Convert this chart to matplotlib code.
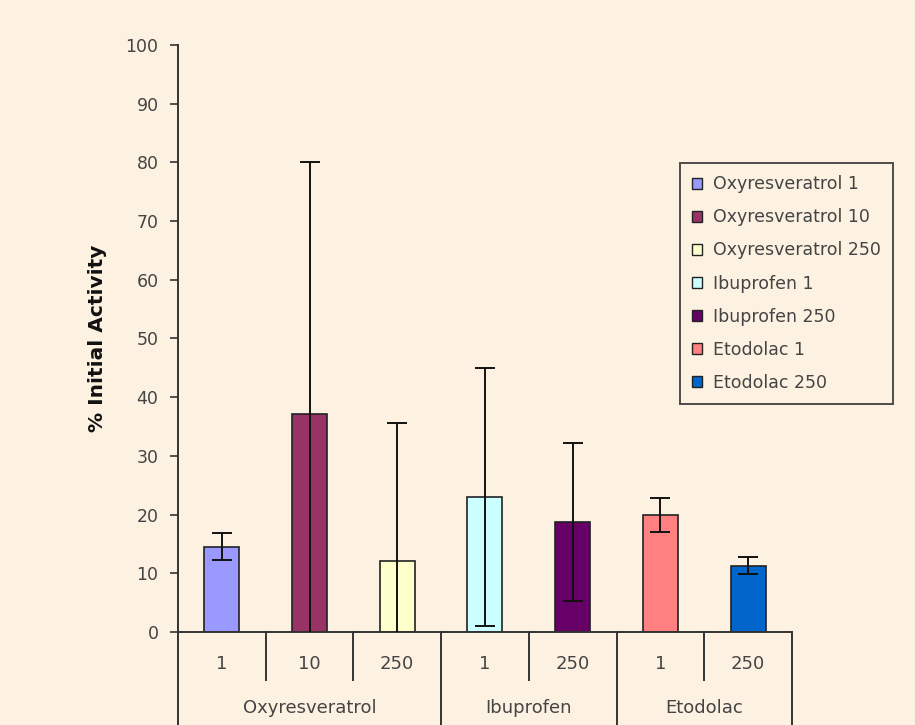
import numpy as np
import matplotlib.pyplot as plt
from matplotlib.patches import Patch

plt.rcParams["font.family"] = ["DejaVu Sans"]

series = ["Oxyresveratrol 1", "Oxyresveratrol 10", "Oxyresveratrol 250",
          "Ibuprofen 1", "Ibuprofen 250", "Etodolac 1", "Etodolac 250"]
doses = ["1", "10", "250", "1", "250", "1", "250"]
groups = ["Oxyresveratrol", "Ibuprofen", "Etodolac"]
group_sizes = [3, 2, 2]
values = [14.5, 37.1, 12.1, 23.0, 18.7, 20.0, 11.3]
errors = [2.3, 43.0, 23.5, 22.0, 13.5, 2.9, 1.5]
colors = ["#9999FF", "#993366", "#FFFFCC", "#CCFFFF", "#660066", "#FF8080", "#0066CC"]

bg = "#FDF2E2"
ink = "#333333"

fig = plt.figure(figsize=(9.15, 7.25), dpi=100, facecolor=bg)
ax = fig.add_axes([0.1945, 0.1283, 0.671, 0.8097], facecolor=bg)

x = np.arange(len(values))
ax.bar(x, values, width=0.4, color=colors, edgecolor="#222222", linewidth=1.2, zorder=2)
ax.errorbar(x, values, yerr=errors, fmt="none", ecolor="#111111", elinewidth=1.4,
            capsize=7.5, capthick=1.4, zorder=3)

ax.set_xlim(-0.5, len(values) - 0.5)
ax.set_ylim(0, 100)
ax.set_yticks(range(0, 101, 10))
ax.tick_params(axis="y", direction="out", length=6, width=1.2, color=ink,
               labelsize=12.5, labelcolor="#444444", pad=8)
ax.set_xticks([])
for s in ["top", "right"]:
    ax.spines[s].set_visible(False)
for s in ["left", "bottom"]:
    ax.spines[s].set_color(ink)
    ax.spines[s].set_linewidth(1.4)

ax.set_ylabel("% Initial Activity", fontsize=14.5, fontweight="bold", color="#111111", labelpad=13)

# two-level category axis drawn under the plot
ax_h = 0.8097 * 725
short = -48 / ax_h
long_ = -100 / ax_h
trans = ax.get_xaxis_transform()
for i, d in enumerate(doses):
    ax.text(i, -32 / ax_h, d, transform=trans, ha="center", va="center",
            fontsize=13, color="#444444")

edges = np.cumsum([0] + group_sizes) - 0.5
for k, g in enumerate(groups):
    mid = (edges[k] + edges[k + 1]) / 2
    ax.text(mid, -76 / ax_h, g, transform=trans, ha="center", va="center",
            fontsize=13, color="#444444")
    for j in range(group_sizes[k] - 1):
        xd = edges[k] + j + 1
        ax.plot([xd, xd], [0, short], transform=trans, color=ink, lw=1.4, clip_on=False)
for xd in edges:
    ax.plot([xd, xd], [0, long_], transform=trans, color=ink, lw=1.4, clip_on=False)

handles = [Patch(facecolor=c, edgecolor="#222222", linewidth=1.0) for c in colors]
leg = fig.legend(handles, series, loc="upper left", bbox_to_anchor=(0.743, 0.775),
                 fontsize=12.5, frameon=True, fancybox=False, edgecolor="#222222",
                 facecolor=bg, handlelength=0.6, handleheight=0.6, handletextpad=0.6,
                 labelspacing=0.87, borderpad=0.7, borderaxespad=0)
leg.get_frame().set_linewidth(1.4)
for t in leg.get_texts():
    t.set_color("#444444")

fig.savefig("out.png", dpi=100, facecolor=bg)
